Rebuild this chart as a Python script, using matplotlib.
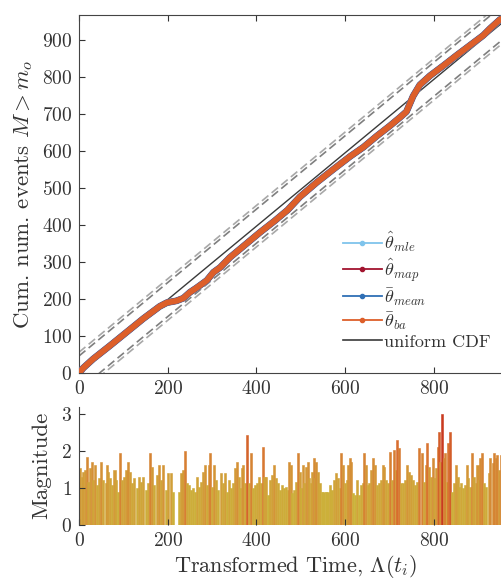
"""Cumulative events vs transformed time + magnitude bars (two panels)."""
import matplotlib

matplotlib.use("Agg")
import matplotlib.pyplot as plt
import numpy as np
from matplotlib.colors import LinearSegmentedColormap, Normalize
from matplotlib.lines import Line2D

plt.rcParams["font.family"] = "serif"
plt.rcParams["font.serif"] = ["cmr10", "DejaVu Serif"]
plt.rcParams["mathtext.fontset"] = "cm"
plt.rcParams["axes.formatter.use_mathtext"] = True

# --- data ---
n_events = 967
t_max = 975

# cumulative count curve (all four estimators overlap)
cum_time = [0, 10, 32, 70, 107, 145, 182, 198, 220, 235, 250, 265, 288, 303, 318,
            340, 363, 385, 408, 440, 470, 498, 536, 573, 611, 641, 671, 701, 723,
            738, 753, 768, 791, 821, 851, 881, 911, 926, 949, 975]
cum_count = [0, 14, 38, 74, 110, 147, 180, 190, 195, 202, 218, 230, 250, 272, 285,
             312, 335, 357, 380, 410, 440, 476, 515, 550, 585, 610, 640, 668, 690,
             706, 748, 778, 803, 830, 858, 885, 912, 930, 955, 967]

# confidence band half-widths (two levels)
band_offsets = [46, 56]

# magnitudes vs transformed time
event_time = [
    2, 6, 10, 14, 17, 21, 25, 29, 32, 35, 40, 44, 50, 55, 60, 63, 66, 70, 74, 80,
    83, 87, 92, 96, 102, 107, 111, 115, 120, 125, 130, 136, 140, 145, 150, 156,
    161, 165, 170, 175, 180, 185, 190, 196, 201, 207, 211, 217, 222, 226, 231,
    235, 239, 243, 247, 252, 256, 261, 265, 270, 274, 279, 283, 288, 292, 295,
    299, 304, 309, 314, 319, 324, 329, 333, 339, 343, 348, 352, 355, 360, 363,
    367, 370, 375, 379, 384, 388, 392, 397, 401, 406, 410, 414, 418, 422, 427,
    430, 434, 439, 443, 448, 452, 457, 461, 466, 470, 473, 477, 481, 485, 489,
    493, 497, 500, 504, 508, 512, 515, 519, 523, 526, 529, 532, 535, 538, 542,
    547, 551, 556, 560, 565, 569, 574, 579, 584, 588, 591, 594, 599, 603, 607,
    611, 614, 617, 621, 626, 630, 635, 639, 642, 647, 651, 654, 659, 663, 667,
    671, 675, 680, 684, 688, 692, 696, 701, 705, 710, 714, 717, 722, 726, 731,
    735, 740, 744, 749, 753, 758, 762, 766, 772, 777, 781, 784, 789, 793, 797,
    801, 805, 808, 811, 814, 818, 822, 825, 829, 832, 836, 840, 844, 849, 853,
    856, 861, 865, 870, 874, 877, 882, 886, 889, 894, 898, 901, 904, 909, 913,
    918, 923, 927, 932, 935, 939, 943, 947, 951,
]
magnitude = [
    1.53, 1.31, 1.44, 1.49, 1.83, 1.17, 1.53, 1.71, 1.22, 1.62, 1.08, 1.26, 1.71,
    1.22, 1.13, 1.62, 1.44, 1.26, 1.08, 1.49, 1.22, 0.90, 1.94, 1.22, 1.31, 1.49,
    1.71, 1.44, 1.13, 1.26, 0.99, 1.31, 1.17, 1.31, 0.95, 1.13, 1.94, 1.58, 1.08,
    1.35, 1.62, 1.22, 1.62, 0.95, 1.40, 1.40, 0.90, 0.0, 0.0, 0.90, 1.40, 1.49,
    2.01, 1.13, 1.08, 0.95, 0.99, 0.90, 1.31, 1.04, 1.17, 1.44, 1.62, 1.08, 1.62,
    1.94, 1.04, 1.62, 1.22, 0.95, 1.40, 1.13, 1.40, 0.90, 1.22, 0.99, 1.13, 1.53,
    1.71, 1.31, 0.99, 1.53, 1.62, 1.13, 2.43, 1.13, 1.94, 0.99, 1.08, 1.13, 1.31,
    1.13, 2.12, 1.31, 1.31, 0.81, 1.22, 1.35, 1.62, 1.26, 1.13, 0.95, 1.08, 0.99,
    1.04, 0.95, 1.71, 1.62, 0.86, 0.95, 1.17, 1.94, 1.44, 0.99, 1.62, 1.13, 1.58,
    1.71, 1.26, 1.13, 1.44, 1.80, 1.26, 1.71, 1.44, 1.13, 0.90, 0.90, 0.90, 0.90,
    1.08, 0.95, 1.22, 1.40, 1.26, 0.99, 1.94, 1.62, 1.13, 1.22, 1.62, 1.80, 1.71,
    0.86, 0.81, 1.22, 0.81, 1.08, 1.13, 1.94, 1.62, 1.08, 1.13, 1.49, 1.80, 1.62,
    1.08, 1.13, 1.22, 1.62, 1.58, 1.22, 1.13, 1.98, 1.22, 2.03, 1.49, 2.30, 2.07,
    1.13, 1.13, 1.22, 1.62, 1.44, 1.35, 1.22, 1.08, 1.17, 2.07, 1.94, 1.17, 1.62,
    2.21, 1.58, 1.31, 1.80, 1.26, 1.53, 2.12, 2.52, 1.71, 3.00, 1.80, 1.94, 1.17,
    2.21, 2.52, 0.90, 1.13, 1.62, 1.31, 1.04, 1.13, 0.99, 1.08, 1.62, 1.26, 1.04,
    1.94, 1.31, 1.13, 1.62, 1.22, 1.80, 1.94, 1.13, 1.04, 1.40, 1.80, 1.67, 1.94,
    1.80, 1.89, 1.49, 1.89,
]

series_labels = [r"$\hat{\theta}_{mle}$", r"$\hat{\theta}_{map}$",
                 r"$\bar{\theta}_{mean}$", r"$\bar{\theta}_{ba}$"]
series_colors = ["#7fc4ec", "#a2142f", "#2f6fb5", "#dd5f2a"]
series_widths = [5.0, 4.6, 4.4, 4.2]

TEXT = "#333333"
W, H = 502, 581
px_per_x = 0.44375
fig = plt.figure(figsize=(W / 100, H / 100), dpi=100)

ax_w = t_max * px_per_x / W
ax1 = fig.add_axes([79 / W, 1 - 373 / H, ax_w, 358 / H])
ax2 = fig.add_axes([79 / W, 1 - 525 / H, ax_w, 118.4 / H])

# --- top panel ---
tt = np.array([0, t_max])
for k, off in enumerate(band_offsets):
    c = "#7f7f7f" if k == 0 else "#a8a8a8"
    ax1.plot(tt, tt * n_events / t_max + off, ls=(0, (5, 2.5)), color=c, lw=1.2)
    ax1.plot(tt, tt * n_events / t_max - off, ls=(0, (5, 2.5)), color=c, lw=1.2)
ax1.plot(tt, tt * n_events / t_max, color="#3a3a3a", lw=1.0, zorder=3)
for lbl, c, lw in zip(series_labels, series_colors, series_widths):
    ax1.plot(cum_time, cum_count, color=c, lw=lw, solid_capstyle="round", zorder=4)

ax1.set_xlim(0, t_max)
ax1.set_ylim(0, n_events)
ax1.set_yticks(np.arange(0, 901, 100))
ax1.set_xticks(np.arange(0, 801, 200))
ax1.tick_params(direction="in", length=4, top=True, right=True,
                labelsize=14, colors=TEXT, pad=5)
ax1.set_ylabel(r"Cum. num. events $M > m_o$", fontsize=16.5, color=TEXT,
               labelpad=5)
for s in ax1.spines.values():
    s.set_color("#444444")

handles = [Line2D([], [], color=c, lw=1.3, marker=".", markersize=6)
           for c in series_colors]
handles.append(Line2D([], [], color="#3a3a3a", lw=1.2))
leg = ax1.legend(handles, series_labels + ["uniform CDF"], loc="lower left",
                 bbox_to_anchor=(0.58, 0.03), frameon=False, fontsize=13,
                 handlelength=2.2, handletextpad=0.1, labelspacing=0.12,
                 borderpad=0.2)
for t in leg.get_texts():
    t.set_color(TEXT)

# --- bottom panel ---
cmap = LinearSegmentedColormap.from_list(
    "mag", ["#cbb33a", "#d39a38", "#d9702f", "#c93a1f"])
norm = Normalize(vmin=0.8, vmax=3.0)
bar_colors = cmap(norm(np.array(magnitude)))
ax2.bar(event_time, magnitude, width=4.6, color=bar_colors,
        edgecolor=bar_colors, linewidth=0.4, align="center")
ax2.set_xlim(0, t_max)
ax2.set_ylim(0, 3.2)
ax2.set_yticks([0, 1, 2, 3])
ax2.set_xticks(np.arange(0, 801, 200))
ax2.tick_params(direction="in", length=4, labelsize=14, colors=TEXT, pad=5)
ax2.spines["top"].set_visible(False)
ax2.spines["right"].set_visible(False)
ax2.spines["left"].set_color("#444444")
ax2.spines["bottom"].set_visible(False)
ax2.set_ylabel("Magnitude", fontsize=16.5, color=TEXT, labelpad=7)
ax2.set_xlabel(r"Transformed Time, $\Lambda(t_i)$", fontsize=16, color=TEXT,
               labelpad=2)

fig.savefig("out.png", dpi=100)
